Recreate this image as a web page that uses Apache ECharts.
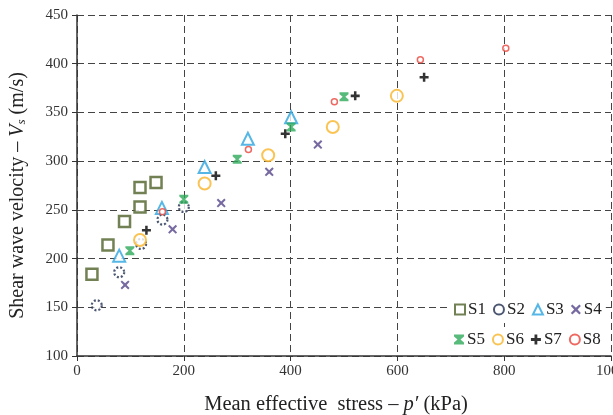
<!DOCTYPE html>
<html><head><meta charset="utf-8">
<script src="https://cdn.jsdelivr.net/npm/echarts@6/dist/echarts.min.js"></script>
<style>html,body{margin:0;padding:0;background:#fff}#c{width:613px;height:415px}</style>
</head><body><div id="c"></div>
<script>
const xTicks = [0, 200, 400, 600, 800, 1000];
const yTicks = [100, 150, 200, 250, 300, 350, 400, 450];
const S1 = [[28,184],[58,214],[89,238],[118,253],[118,273],[148,278]];
const S2 = [[37,152],[79,186],[120,215],[160,240],[200,253]];
const S3 = [[79,203],[159,252],[239,294],[320,323],[401,345]];
const S4 = [[90,173],[179,230],[270,257],[360,289],[451,317]];
const S5 = [[99,208],[200,261],[300,302],[401,335],[500,366]];
const S6 = [[118,219],[239,277],[358,306],[479,335],[599,367]];
const S7 = [[130,229],[260,285],[390,328],[521,367],[650,386]];
const S8 = [[160,248],[321,312],[482,361],[643,404],[803,416]];
const names = ['S1','S2','S3','S4','S5','S6','S7','S8'];

const XP = 'path://M1.5,0 L5,3.3 L8.5,0 L10,1.5 L6.7,5 L10,8.5 L8.5,10 L5,6.7 L1.5,10 L0,8.5 L3.3,5 L0,1.5 Z';
const PLUS = 'path://M3.6,0 L6.4,0 L6.4,3.6 L10,3.6 L10,6.4 L6.4,6.4 L6.4,10 L3.6,10 L3.6,6.4 L0,6.4 L0,3.6 L3.6,3.6 Z';
const HOUR = 'path://M0,0 L10,0 L10,2 L6.5,5 L10,8 L10,10 L0,10 L0,8 L3.5,5 L0,2 Z';

const serif = '"Liberation Serif", "Times New Roman", Times, serif';
function sc(name, data, symbol, size, itemStyle){
  return {name, type:'scatter', data, symbol, symbolSize:size, itemStyle, z:5};
}
const series = [
  sc('S1', S1, 'rect', 11, {color:'#fff', borderColor:'#4f6228', borderWidth:2.5}),
  sc('S2', S2, 'circle', 10, {color:'#fff', borderColor:'#1f2d4f', borderWidth:2.2, borderType:[2,2]}),
  sc('S3', S3, 'triangle', 12, {color:'#fff', borderColor:'#2ca5e0', borderWidth:2}),
  sc('S4', S4, XP, 9, {color:'#55458a'}),
  sc('S5', S5, HOUR, 9, {color:'#2eaa5a'}),
  sc('S6', S6, 'circle', 12, {color:'#fff', borderColor:'#f9b52a', borderWidth:2}),
  sc('S7', S7, PLUS, 9, {color:'#000'}),
  sc('S8', S8, 'circle', 6, {color:'#fff', borderColor:'#e8433a', borderWidth:1.5})
];
const legBase = {
  orient:'horizontal', itemWidth:10, itemHeight:10, itemGap:7,
  textStyle:{fontFamily:serif, fontSize:17, color:'#222', padding:[0,0,0,-2]},
  backgroundColor:'#fff', padding:[4,4,4,4], selectedMode:false
};
const option = {
  animation:false,
  backgroundColor:'#fff',
  grid:{left:77, right:2, top:15, bottom:59, containLabel:false, outerBoundsMode:'none'},
  legend:[
    Object.assign({}, legBase, {data:names.slice(0,4), left:450, top:297}),
    Object.assign({}, legBase, {data:names.slice(4), left:450, top:327})
  ],
  xAxis:{
    type:'value', min:xTicks[0], max:xTicks[xTicks.length-1], interval:200,
    name:'Mean effective  stress – {i|p′} (kPa)', nameLocation:'middle', nameGap:38,
    nameTextStyle:{fontFamily:serif, fontSize:20.5, color:'#222', padding:[0,16,0,0],
      rich:{i:{fontFamily:serif, fontStyle:'italic', fontSize:20.5, color:'#222'}}},
    axisLine:{show:true, lineStyle:{color:'#333', width:1.5}},
    axisTick:{show:true, inside:false, length:5, lineStyle:{color:'#333'}},
    axisLabel:{fontFamily:serif, fontSize:15, color:'#333', margin:8, formatter:v => String(v)},
    splitLine:{show:true, lineStyle:{color:'#444', type:[7,4], width:1}}
  },
  yAxis:{
    type:'value', min:yTicks[0], max:yTicks[yTicks.length-1], interval:50,
    name:'Shear wave velocity – {i|V}{s|s} (m/s)', nameLocation:'middle', nameGap:49,
    nameTextStyle:{fontFamily:serif, fontSize:20, color:'#222', padding:[0,20,0,0],
      rich:{i:{fontFamily:serif, fontStyle:'italic', fontSize:20, color:'#222'},
            s:{fontFamily:serif, fontStyle:'italic', fontSize:13, color:'#222', verticalAlign:'bottom', padding:[8,0,0,0]}}},
    axisLine:{show:true, lineStyle:{color:'#333', width:1.5}},
    axisTick:{show:true, inside:false, length:5, lineStyle:{color:'#333'}},
    axisLabel:{fontFamily:serif, fontSize:15, color:'#333', margin:9, formatter:v => String(v)},
    splitLine:{show:true, lineStyle:{color:'#444', type:[7,4], width:1}}
  },
  series
};
echarts.init(document.getElementById('c'), null, {renderer:'canvas'}).setOption(option);
</script>
</body></html>
